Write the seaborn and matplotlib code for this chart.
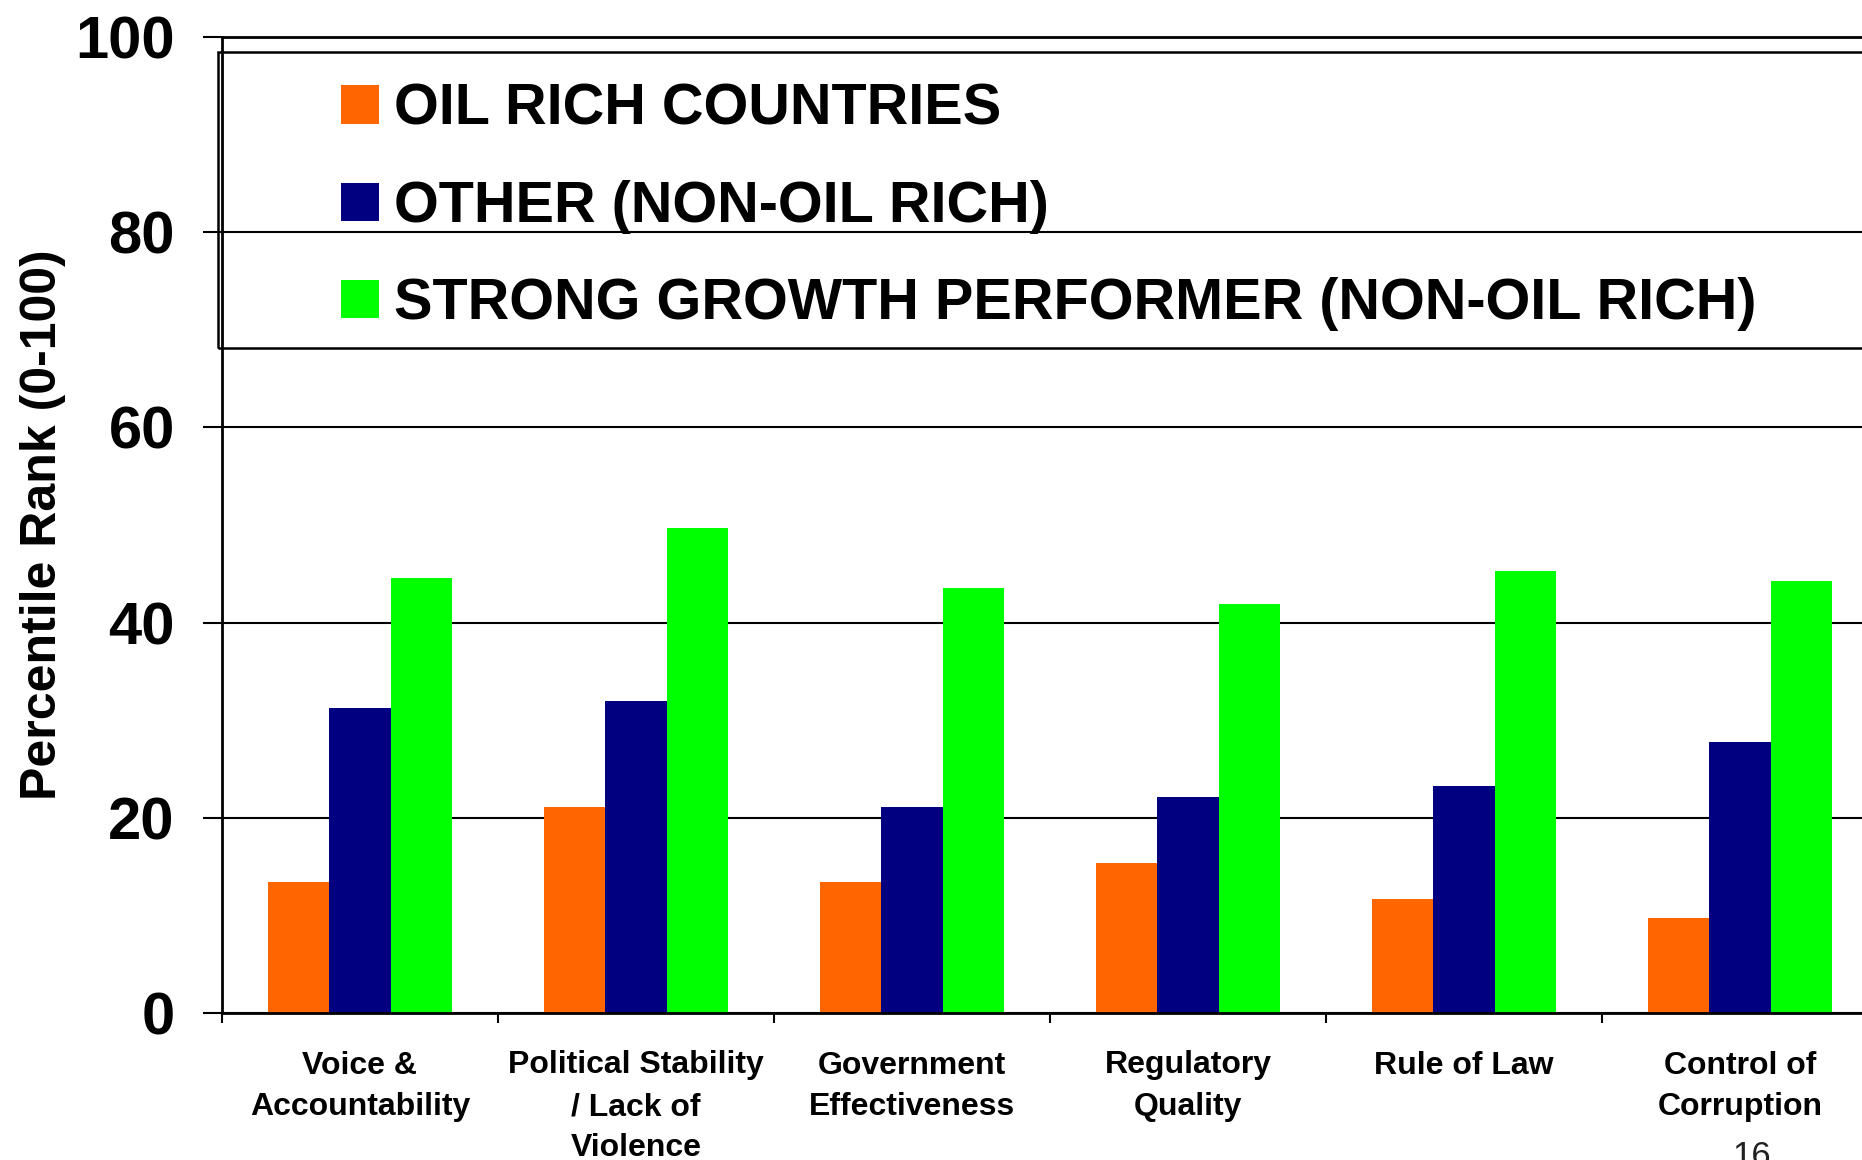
import numpy as np
import pandas as pd
import matplotlib
matplotlib.use("Agg")
import matplotlib.pyplot as plt
from matplotlib.patches import Rectangle
import seaborn as sns

# data
categories = ["Voice &\nAccountability", "Political Stability\n/ Lack of\nViolence",
              "Government\nEffectiveness", "Regulatory\nQuality", "Rule of Law",
              "Control of\nCorruption"]
groups = ["OIL RICH COUNTRIES", "OTHER (NON-OIL RICH)",
          "STRONG GROWTH PERFORMER (NON-OIL RICH)"]
oil_rich = [13.4, 21.1, 13.4, 15.4, 11.7, 9.7]
other = [31.3, 32.0, 21.1, 22.1, 23.3, 27.8]
strong_growth = [44.6, 49.7, 43.5, 41.9, 45.3, 44.3]
colors = ["#FF6600", "#000080", "#00FF00"]

sns.set_theme(style="white")
plt.rcParams["font.family"] = ["Liberation Sans", "DejaVu Sans"]
plt.rcParams["font.weight"] = "bold"
plt.rcParams["text.color"] = "black"
plt.rcParams["axes.labelcolor"] = "black"
plt.rcParams["xtick.color"] = "black"
plt.rcParams["ytick.color"] = "black"

df = pd.DataFrame({
    "category": categories * 3,
    "group": [groups[0]] * 6 + [groups[1]] * 6 + [groups[2]] * 6,
    "value": oil_rich + other + strong_growth,
})

fig = plt.figure(figsize=(18.62, 11.6), dpi=100)
ax = fig.add_axes([222 / 1862, 147 / 1160, 1656 / 1862, 976 / 1160])

sns.barplot(data=df, x="category", y="value", hue="group", hue_order=groups,
            palette=colors, saturation=1, width=2 / 3, linewidth=0, ax=ax)

ax.set_xlim(-0.5, 5.5)
ax.set_ylim(0, 100)
ax.set_yticks(range(0, 101, 20))
ax.set_yticklabels([str(v) for v in range(0, 101, 20)], fontsize=43, fontweight="bold")
ax.tick_params(axis="y", direction="out", length=14, width=1.5, pad=20, left=True)

# ticks between categories, labels in the middle
ax.set_xticks(np.arange(-0.5, 6.0, 1.0))
ax.set_xticklabels([])
ax.set_xticks(range(6), minor=True)
ax.set_xticklabels(categories, minor=True, fontsize=23, fontweight="bold",
                   linespacing=1.5)
ax.tick_params(axis="x", which="major", direction="out", length=7, width=1.5, bottom=True)
ax.tick_params(axis="x", which="minor", length=0, pad=27)

ax.set_xlabel("")
ax.set_ylabel("Percentile Rank (0-100)", fontsize=36, fontweight="bold")
ax.yaxis.set_label_coords(-0.094, 0.5)

ax.yaxis.grid(True, color="black", linewidth=1.5)
ax.set_axisbelow(True)
for side in ["left", "bottom", "top"]:
    ax.spines[side].set_color("black")
    ax.spines[side].set_linewidth(2)
ax.spines["right"].set_visible(False)

# legend box
ax.add_patch(Rectangle((-0.0024, 0.681), 1.2, 0.304, transform=ax.transAxes,
                       fill=False, edgecolor="black", linewidth=1.8, clip_on=False,
                       zorder=5))
handles, labels = ax.get_legend_handles_labels()
ax.legend(handles, labels, loc="upper left", bbox_to_anchor=(0.0719, 0.953),
          frameon=False, borderpad=0, borderaxespad=0,
          handlelength=0.65, handleheight=0.65, handletextpad=0.26,
          labelspacing=0.75, prop={"weight": "bold", "size": 41.5})

fig.text(1752 / 1862, 1 - 1140 / 1160, "16", fontsize=25, fontweight="normal",
         ha="center", va="top", color="#222222")

fig.savefig("out.png", dpi=100)
